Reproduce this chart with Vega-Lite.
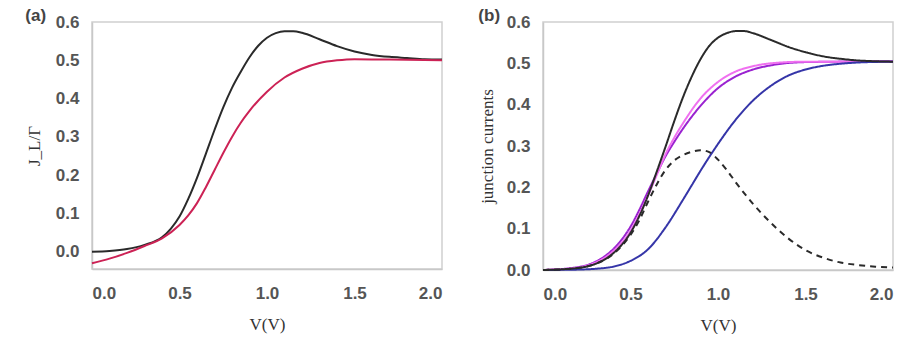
{
  "$schema": "https://vega.github.io/schema/vega-lite/v6.json",
  "padding": {"left": 24, "top": 6, "right": 0, "bottom": 0},
  "spacing": 30,
  "resolve": {"scale": {"color": "independent", "strokeDash": "independent"}},
  "config": {
    "view": {"stroke": "#d0d0d0", "strokeWidth": 1.5},
    "axis": {
      "grid": false, "ticks": false, "domainColor": "#c8c8c8", "domainWidth": 1.5,
      "labelFont": "Liberation Sans", "labelFontSize": 17, "labelColor": "#555555", "labelFontWeight": "bold",
      "titleFont": "Liberation Serif", "titleFontSize": 17, "titleColor": "#333333", "titleFontWeight": "normal"
    },
    "title": {"font": "Liberation Sans", "fontSize": 17, "fontWeight": "bold", "color": "#444444"}
  },
  "datasets": {
    "a": [
      {"s": "black", "V": 0.0, "J": 0.0}, {"s": "black", "V": 0.1, "J": 0.002}, {"s": "black", "V": 0.2, "J": 0.007},
      {"s": "black", "V": 0.3, "J": 0.018}, {"s": "black", "V": 0.4, "J": 0.038}, {"s": "black", "V": 0.45, "J": 0.06},
      {"s": "black", "V": 0.5, "J": 0.092},
      {"s": "black", "V": 0.55, "J": 0.138}, {"s": "black", "V": 0.6, "J": 0.193}, {"s": "black", "V": 0.65, "J": 0.255},
      {"s": "black", "V": 0.7, "J": 0.318}, {"s": "black", "V": 0.75, "J": 0.377}, {"s": "black", "V": 0.8, "J": 0.428},
      {"s": "black", "V": 0.85, "J": 0.47}, {"s": "black", "V": 0.9, "J": 0.508}, {"s": "black", "V": 0.95, "J": 0.538},
      {"s": "black", "V": 1.0, "J": 0.559}, {"s": "black", "V": 1.05, "J": 0.571}, {"s": "black", "V": 1.1, "J": 0.576},
      {"s": "black", "V": 1.15, "J": 0.576}, {"s": "black", "V": 1.2, "J": 0.572}, {"s": "black", "V": 1.3, "J": 0.555},
      {"s": "black", "V": 1.4, "J": 0.537}, {"s": "black", "V": 1.5, "J": 0.523}, {"s": "black", "V": 1.6, "J": 0.514},
      {"s": "black", "V": 1.7, "J": 0.509}, {"s": "black", "V": 1.8, "J": 0.506}, {"s": "black", "V": 1.9, "J": 0.503},
      {"s": "black", "V": 2.0, "J": 0.502},
      {"s": "red", "V": 0.0, "J": -0.03}, {"s": "red", "V": 0.1, "J": -0.018}, {"s": "red", "V": 0.2, "J": -0.003},
      {"s": "red", "V": 0.3, "J": 0.015}, {"s": "red", "V": 0.4, "J": 0.035}, {"s": "red", "V": 0.5, "J": 0.07},
      {"s": "red", "V": 0.55, "J": 0.095}, {"s": "red", "V": 0.6, "J": 0.127}, {"s": "red", "V": 0.65, "J": 0.168},
      {"s": "red", "V": 0.7, "J": 0.213}, {"s": "red", "V": 0.75, "J": 0.258},
      {"s": "red", "V": 0.8, "J": 0.3}, {"s": "red", "V": 0.85, "J": 0.337}, {"s": "red", "V": 0.9, "J": 0.368},
      {"s": "red", "V": 1.0, "J": 0.418}, {"s": "red", "V": 1.1, "J": 0.455}, {"s": "red", "V": 1.2, "J": 0.478},
      {"s": "red", "V": 1.3, "J": 0.493}, {"s": "red", "V": 1.4, "J": 0.5}, {"s": "red", "V": 1.5, "J": 0.503},
      {"s": "red", "V": 1.7, "J": 0.502}, {"s": "red", "V": 2.0, "J": 0.5}
    ],
    "b": [
      {"s": "purple", "V": 0.0, "J": 0.0}, {"s": "purple", "V": 0.2, "J": 0.007}, {"s": "purple", "V": 0.3, "J": 0.02},
      {"s": "purple", "V": 0.4, "J": 0.05}, {"s": "purple", "V": 0.5, "J": 0.105}, {"s": "purple", "V": 0.55, "J": 0.145},
      {"s": "purple", "V": 0.6, "J": 0.19}, {"s": "purple", "V": 0.65, "J": 0.233}, {"s": "purple", "V": 0.7, "J": 0.275},
      {"s": "purple", "V": 0.75, "J": 0.31}, {"s": "purple", "V": 0.8, "J": 0.342}, {"s": "purple", "V": 0.9, "J": 0.397},
      {"s": "purple", "V": 1.0, "J": 0.44}, {"s": "purple", "V": 1.1, "J": 0.468}, {"s": "purple", "V": 1.2, "J": 0.485},
      {"s": "purple", "V": 1.3, "J": 0.495}, {"s": "purple", "V": 1.5, "J": 0.503}, {"s": "purple", "V": 2.0, "J": 0.505},
      {"s": "pink", "V": 0.0, "J": 0.0}, {"s": "pink", "V": 0.2, "J": 0.006}, {"s": "pink", "V": 0.3, "J": 0.018},
      {"s": "pink", "V": 0.4, "J": 0.045}, {"s": "pink", "V": 0.5, "J": 0.095}, {"s": "pink", "V": 0.55, "J": 0.135},
      {"s": "pink", "V": 0.6, "J": 0.18}, {"s": "pink", "V": 0.65, "J": 0.23}, {"s": "pink", "V": 0.7, "J": 0.28},
      {"s": "pink", "V": 0.75, "J": 0.32}, {"s": "pink", "V": 0.8, "J": 0.355}, {"s": "pink", "V": 0.9, "J": 0.415},
      {"s": "pink", "V": 1.0, "J": 0.455}, {"s": "pink", "V": 1.1, "J": 0.48}, {"s": "pink", "V": 1.2, "J": 0.493},
      {"s": "pink", "V": 1.3, "J": 0.5}, {"s": "pink", "V": 1.5, "J": 0.504}, {"s": "pink", "V": 2.0, "J": 0.504},
      {"s": "blue", "V": 0.0, "J": 0.0}, {"s": "blue", "V": 0.2, "J": 0.001}, {"s": "blue", "V": 0.3, "J": 0.003},
      {"s": "blue", "V": 0.4, "J": 0.008}, {"s": "blue", "V": 0.5, "J": 0.022}, {"s": "blue", "V": 0.6, "J": 0.05},
      {"s": "blue", "V": 0.7, "J": 0.103}, {"s": "blue", "V": 0.8, "J": 0.17}, {"s": "blue", "V": 0.85, "J": 0.205},
      {"s": "blue", "V": 0.9, "J": 0.24}, {"s": "blue", "V": 1.0, "J": 0.305}, {"s": "blue", "V": 1.1, "J": 0.363},
      {"s": "blue", "V": 1.2, "J": 0.41}, {"s": "blue", "V": 1.3, "J": 0.445}, {"s": "blue", "V": 1.4, "J": 0.47},
      {"s": "blue", "V": 1.5, "J": 0.485}, {"s": "blue", "V": 1.6, "J": 0.494}, {"s": "blue", "V": 1.7, "J": 0.499},
      {"s": "blue", "V": 1.8, "J": 0.502}, {"s": "blue", "V": 2.0, "J": 0.504},
      {"s": "dashed", "V": 0.0, "J": 0.0}, {"s": "dashed", "V": 0.2, "J": 0.005}, {"s": "dashed", "V": 0.3, "J": 0.015},
      {"s": "dashed", "V": 0.4, "J": 0.038}, {"s": "dashed", "V": 0.5, "J": 0.085}, {"s": "dashed", "V": 0.55, "J": 0.12},
      {"s": "dashed", "V": 0.6, "J": 0.165}, {"s": "dashed", "V": 0.65, "J": 0.207}, {"s": "dashed", "V": 0.7, "J": 0.242},
      {"s": "dashed", "V": 0.75, "J": 0.265}, {"s": "dashed", "V": 0.8, "J": 0.278}, {"s": "dashed", "V": 0.85, "J": 0.286},
      {"s": "dashed", "V": 0.9, "J": 0.29}, {"s": "dashed", "V": 0.95, "J": 0.285}, {"s": "dashed", "V": 1.0, "J": 0.267},
      {"s": "dashed", "V": 1.05, "J": 0.242}, {"s": "dashed", "V": 1.1, "J": 0.213}, {"s": "dashed", "V": 1.2, "J": 0.16},
      {"s": "dashed", "V": 1.3, "J": 0.115}, {"s": "dashed", "V": 1.4, "J": 0.077}, {"s": "dashed", "V": 1.5, "J": 0.048},
      {"s": "dashed", "V": 1.6, "J": 0.03}, {"s": "dashed", "V": 1.7, "J": 0.018}, {"s": "dashed", "V": 1.8, "J": 0.012},
      {"s": "dashed", "V": 1.9, "J": 0.008}, {"s": "dashed", "V": 2.0, "J": 0.006},
      {"s": "total", "V": 0.0, "J": 0.0}, {"s": "total", "V": 0.2, "J": 0.005}, {"s": "total", "V": 0.3, "J": 0.015},
      {"s": "total", "V": 0.4, "J": 0.04}, {"s": "total", "V": 0.5, "J": 0.09}, {"s": "total", "V": 0.55, "J": 0.13},
      {"s": "total", "V": 0.6, "J": 0.18}, {"s": "total", "V": 0.65, "J": 0.238}, {"s": "total", "V": 0.7, "J": 0.298},
      {"s": "total", "V": 0.75, "J": 0.36}, {"s": "total", "V": 0.8, "J": 0.418}, {"s": "total", "V": 0.85, "J": 0.468},
      {"s": "total", "V": 0.9, "J": 0.51}, {"s": "total", "V": 0.95, "J": 0.542}, {"s": "total", "V": 1.0, "J": 0.562},
      {"s": "total", "V": 1.05, "J": 0.573}, {"s": "total", "V": 1.1, "J": 0.578}, {"s": "total", "V": 1.15, "J": 0.578},
      {"s": "total", "V": 1.2, "J": 0.573}, {"s": "total", "V": 1.3, "J": 0.557}, {"s": "total", "V": 1.4, "J": 0.54},
      {"s": "total", "V": 1.5, "J": 0.527}, {"s": "total", "V": 1.6, "J": 0.517}, {"s": "total", "V": 1.7, "J": 0.511},
      {"s": "total", "V": 1.8, "J": 0.507}, {"s": "total", "V": 1.9, "J": 0.505}, {"s": "total", "V": 2.0, "J": 0.504}
    ]
  },
  "hconcat": [
    {
      "width": 350, "height": 247,
      "title": {"text": "(a)", "anchor": "start", "frame": "bounds", "offset": -12},
      "data": {"name": "a"},
      "mark": {"type": "line", "interpolate": "monotone", "strokeWidth": 2},
      "encoding": {
        "x": {"field": "V", "type": "quantitative", "scale": {"domain": [0, 2], "nice": false},
              "axis": {"values": [0, 0.5, 1, 1.5, 2], "format": ".1f", "title": "V(V)", "labelPadding": 16, "titlePadding": 15}},
        "y": {"field": "J", "type": "quantitative", "scale": {"domain": [-0.045, 0.6], "nice": false, "zero": false},
              "axis": {"values": [0, 0.1, 0.2, 0.3, 0.4, 0.5, 0.6], "format": ".1f", "title": "J_L/Γ", "labelPadding": 13, "titlePadding": 12}},
        "color": {"field": "s", "type": "nominal", "legend": null,
                  "scale": {"domain": ["black", "red"], "range": ["#2a2a2a", "#cc2255"]}}
      }
    },
    {
      "width": 350, "height": 248,
      "title": {"text": "(b)", "anchor": "start", "frame": "bounds", "offset": -12},
      "data": {"name": "b"},
      "mark": {"type": "line", "interpolate": "monotone", "strokeWidth": 2},
      "encoding": {
        "x": {"field": "V", "type": "quantitative", "scale": {"domain": [0, 2], "nice": false},
              "axis": {"values": [0, 0.5, 1, 1.5, 2], "format": ".1f", "title": "V(V)", "labelPadding": 16, "titlePadding": 15}},
        "y": {"field": "J", "type": "quantitative", "scale": {"domain": [0, 0.6], "nice": false},
              "axis": {"values": [0, 0.1, 0.2, 0.3, 0.4, 0.5, 0.6], "format": ".1f", "title": "junction currents", "labelPadding": 13, "titlePadding": 10}},
        "color": {"field": "s", "type": "nominal", "legend": null,
                  "scale": {"domain": ["total", "dashed", "pink", "purple", "blue"], "range": ["#2a2a2a", "#2a2a2a", "#f070f0", "#9a22d0", "#3535a8"]}},
        "strokeDash": {"field": "s", "type": "nominal", "legend": null,
                       "scale": {"domain": ["total", "dashed", "pink", "purple", "blue"], "range": [[1, 0], [6, 5], [1, 0], [1, 0], [1, 0]]}}
      }
    }
  ]
}
